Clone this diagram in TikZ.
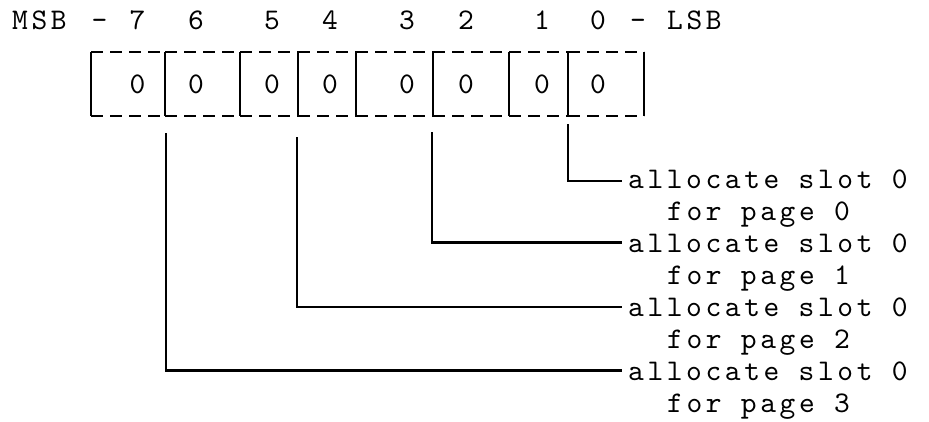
\documentclass[tikz,border=0pt]{standalone}
\usepackage{fontspec}
\newfontfamily\twfont{lmmono10-regular.otf}[LetterSpace=12]
\begin{document}
\begin{tikzpicture}[x=1pt,y=-1pt,
  tw/.style={font=\twfont\fontsize{30}{32}\selectfont, inner sep=0pt},
  txt/.style={tw, anchor=base},
  lbl/.style={tw, anchor=base west},
  sep/.style={line width=2.8pt},
  dsh/.style={line width=2.8pt, dash pattern=on 12pt off 7pt},
  wire/.style={line width=2.6pt, shorten >=6pt}]
\useasboundingbox (0,0) rectangle (929,421);
% header row
\node[lbl] (msb) at (12,29) {MSB};
\node[txt] (dl) at (99.5,29) {–};
\node[txt] (h7) at (137.5,29) {7};
\node[txt] (h6) at (196,29) {6};
\node[txt] (h5) at (272,29) {5};
\node[txt] (h4) at (330,29) {4};
\node[txt] (h3) at (407,29) {3};
\node[txt] (h2) at (466,29) {2};
\node[txt] (h1) at (542,29) {1};
\node[txt] (h0) at (598,29) {0};
\node[txt] (dr) at (638,29) {–};
\node[lbl] (lsb) at (667,29) {LSB};
% register cells
\foreach \x in {91,165,240,298,356,433,509,568,644}
  \draw[sep] (\x,52) -- (\x,116);
\foreach \a/\b in {91/165,165/240,240/298,298/356,356/433,433/509,509/568,568/644}{
  \draw[dsh] (\a,52) -- (\b,52);
  \draw[dsh] (\a,116) -- (\b,116);
}
\node[txt] (z7) at (137.5,93) {0};
\node[txt] (z6) at (196,93) {0};
\node[txt] (z5) at (272,93) {0};
\node[txt] (z4) at (330,93) {0};
\node[txt] (z3) at (407,93) {0};
\node[txt] (z2) at (466,93) {0};
\node[txt] (z1) at (542,93) {0};
\node[txt] (z0) at (598,93) {0};
% labels
\node[lbl] (a0) at (628,188) {allocate slot 0};
\node[lbl] (f0) at (667,220) {for page 0};
\node[lbl] (a1) at (628,252) {allocate slot 0};
\node[lbl] (f1) at (667,284) {for page 1};
\node[lbl] (a2) at (628,316) {allocate slot 0};
\node[lbl] (f2) at (667,348) {for page 2};
\node[lbl] (a3) at (628,380) {allocate slot 0};
\node[lbl] (f3) at (667,412) {for page 3};
% connectors
\coordinate (p0) at (568,124);
\coordinate (p1) at (432,132);
\coordinate (p2) at (297,137);
\coordinate (p3) at (166,133);
\draw[wire] (p0) |- ([yshift=7pt]a0.base west);
\draw[wire] (p1) |- ([yshift=9.5pt]a1.base west);
\draw[wire] (p2) |- ([yshift=9pt]a2.base west);
\draw[wire] (p3) |- ([yshift=9.5pt]a3.base west);
\end{tikzpicture}
\end{document}
